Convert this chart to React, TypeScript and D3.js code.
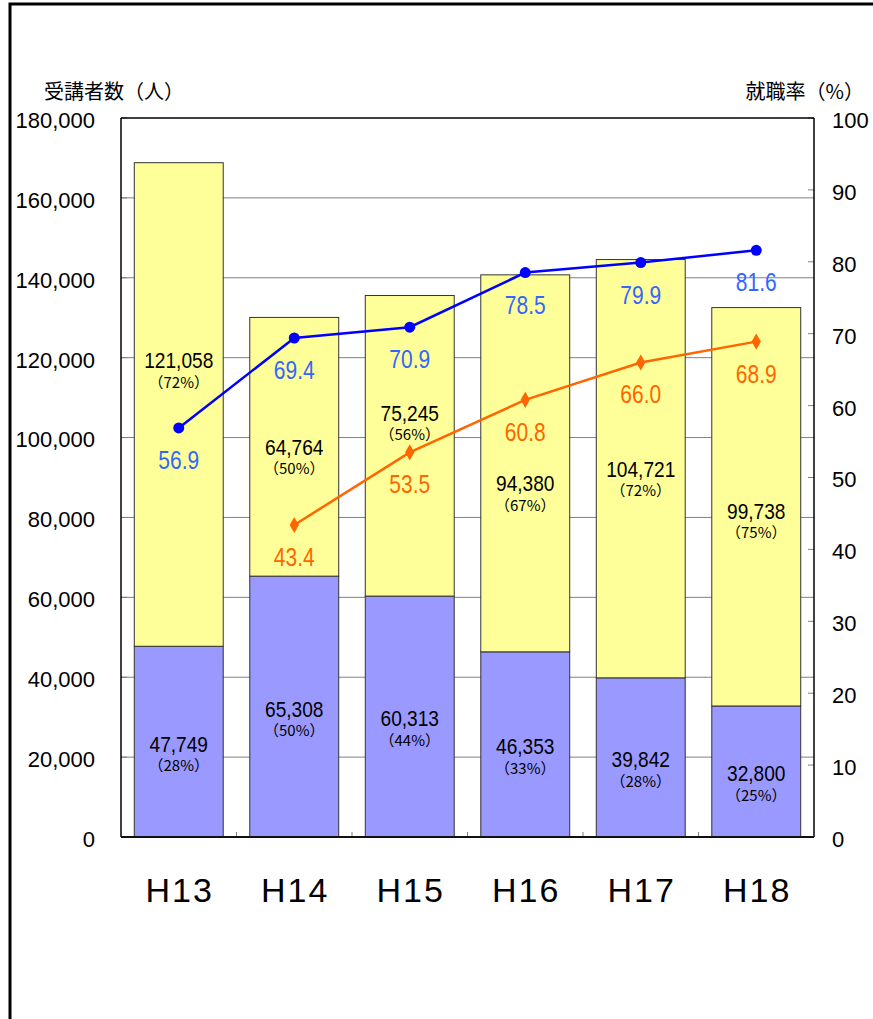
import React from 'react';
import * as d3 from 'd3';

// 受講者数 (stacked) and 就職率 (two lines)
const categories = ['H13', 'H14', 'H15', 'H16', 'H17', 'H18'];
const traineesLower = [47749, 65308, 60313, 46353, 39842, 32800];
const traineesUpper = [121058, 64764, 75245, 94380, 104721, 99738];
const rateBlue = [56.9, 69.4, 70.9, 78.5, 79.9, 81.6];
const rateOrange: (number | null)[] = [null, 43.4, 53.5, 60.8, 66.0, 68.9];
const leftTicks = [0, 20000, 40000, 60000, 80000, 100000, 120000, 140000, 160000, 180000];
const rightTicks = [0, 10, 20, 30, 40, 50, 60, 70, 80, 90, 100];

const W = 873;
const H = 1019;
const plot = { left: 121, right: 814, top: 118, bottom: 837 };
// hand-moved label blocks in the upper segments (px)
const upperShift = [-44, 0, -33, 20, 0, 4];

const numFont = '"Liberation Sans", Arial, sans-serif';
const cjkFont = '"Noto Sans CJK JP", sans-serif';

// narrow-looking text: horizontally squeezed
const Narrow = ({ x, y, size, fill, sx = 0.87, children }: any) => (
  <text
    transform={`translate(${x},${y}) scale(${sx},1)`}
    dy="0.36em"
    textAnchor="middle"
    fontFamily={numFont}
    fontSize={size}
    fill={fill}
  >
    {children}
  </text>
);

const App = () => {
  const x = d3
    .scaleBand<string>()
    .domain(categories)
    .range([plot.left, plot.right])
    .paddingInner(0.23)
    .paddingOuter(0.115);
  const yL = d3.scaleLinear().domain([0, 180000]).range([plot.bottom, plot.top]);
  const yR = d3.scaleLinear().domain([0, 100]).range([plot.bottom, plot.top]);
  const step = (plot.right - plot.left) / categories.length;
  const cx = (c: string) => (x(c) as number) + x.bandwidth() / 2;
  const fmt = d3.format(',');

  const line = d3
    .line<number | null>()
    .defined((d) => d != null)
    .x((_, i) => cx(categories[i]))
    .y((d) => yR(d as number));

  return (
    <div style={{ position: 'absolute', left: 0, top: 0 }}>
      <svg width={W} height={H} style={{ display: 'block', background: '#fff' }}>
        {/* outer frame */}
        <rect x={10} y={4} width={W + 20} height={H + 20} fill="none" stroke="#000" strokeWidth={3} />

        {/* gridlines */}
        {leftTicks.slice(1, -1).map((t) => (
          <line key={t} x1={plot.left} x2={plot.right} y1={yL(t)} y2={yL(t)} stroke="#808080" strokeWidth={1} />
        ))}
        {/* left ticks inside */}
        {leftTicks.map((t) => (
          <line key={'lt' + t} x1={plot.left} x2={plot.left + 6} y1={yL(t)} y2={yL(t)} stroke="#808080" />
        ))}
        {/* right ticks inside */}
        {rightTicks.map((t) => (
          <line key={'rt' + t} x1={plot.right - 6} x2={plot.right} y1={yR(t)} y2={yR(t)} stroke="#808080" />
        ))}
        {/* category ticks */}
        {categories.slice(1).map((c, i) => {
          const xx = plot.left + step * (i + 1);
          return <line key={'ct' + c} x1={xx} x2={xx} y1={plot.bottom} y2={plot.bottom - 5} stroke="#808080" />;
        })}

        {/* bars */}
        {categories.map((c, i) => {
          const lo = traineesLower[i];
          const hi = traineesUpper[i];
          const bx = x(c) as number;
          const bw = x.bandwidth();
          return (
            <g key={c}>
              <rect x={bx} y={yL(lo)} width={bw} height={yL(0) - yL(lo)} fill="#9999FF" stroke="#333" strokeWidth={1} />
              <rect x={bx} y={yL(lo + hi)} width={bw} height={yL(lo) - yL(lo + hi)} fill="#FFFF99" stroke="#333" strokeWidth={1} />
            </g>
          );
        })}

        {/* plot frame */}
        <line x1={plot.left} x2={plot.right} y1={plot.top} y2={plot.top} stroke="#000" strokeWidth={1.5} />
        <line x1={plot.left} x2={plot.left} y1={plot.top} y2={plot.bottom} stroke="#000" strokeWidth={1.5} />
        <line x1={plot.right} x2={plot.right} y1={plot.top} y2={plot.bottom} stroke="#000" strokeWidth={1.5} />
        <line x1={plot.left} x2={plot.right} y1={plot.bottom} y2={plot.bottom} stroke="#111" strokeWidth={2} />

        {/* bar labels */}
        {categories.map((c, i) => {
          const lo = traineesLower[i];
          const hi = traineesUpper[i];
          const tot = lo + hi;
          const mx = cx(c);
          const yLo = (yL(0) + yL(lo)) / 2 + 2;
          const yHi = (yL(lo) + yL(tot)) / 2 + upperShift[i];
          return (
            <g key={'lab' + c}>
              <Narrow x={mx} y={yHi} size={22} fill="#000">{fmt(hi)}</Narrow>
              <text x={mx} y={yHi + 22} dy="0.36em" textAnchor="middle" fontFamily={cjkFont} fontSize={15} fill="#000">
                （{Math.round((hi / tot) * 100)}%）
              </text>
              <Narrow x={mx} y={yLo} size={22} fill="#000">{fmt(lo)}</Narrow>
              <text x={mx} y={yLo + 22} dy="0.36em" textAnchor="middle" fontFamily={cjkFont} fontSize={15} fill="#000">
                （{Math.round((lo / tot) * 100)}%）
              </text>
            </g>
          );
        })}

        {/* lines */}
        <path d={line(rateBlue) || ''} fill="none" stroke="#0000FF" strokeWidth={2.5} />
        <path d={line(rateOrange) || ''} fill="none" stroke="#FF6600" strokeWidth={2.5} />
        {rateBlue.map((v, i) => (
          <g key={'b' + i}>
            <circle cx={cx(categories[i])} cy={yR(v)} r={5.5} fill="#0000FF" />
            <Narrow x={cx(categories[i])} y={yR(v) + 32} size={25} fill="#3366FF" sx={0.84}>
              {v.toFixed(1)}
            </Narrow>
          </g>
        ))}
        {rateOrange.map((v, i) =>
          v == null ? null : (
            <g key={'o' + i}>
              <path
                d={d3.symbol(d3.symbolDiamond, 75)() || ''}
                transform={`translate(${cx(categories[i])},${yR(v)})`}
                fill="#FF6600"
              />
              <Narrow x={cx(categories[i])} y={yR(v) + 32} size={25} fill="#FF6600" sx={0.84}>
                {v.toFixed(1)}
              </Narrow>
            </g>
          )
        )}

        {/* left axis labels */}
        {leftTicks.map((t) => (
          <text key={'ll' + t} x={95} y={yL(t) + 2} dy="0.36em" textAnchor="end" fontFamily={numFont} fontSize={22} fill="#000">
            {fmt(t)}
          </text>
        ))}
        {/* right axis labels */}
        {rightTicks.map((t) => (
          <text key={'rl' + t} x={832} y={yR(t) + 2} dy="0.36em" textAnchor="start" fontFamily={numFont} fontSize={22} fill="#000">
            {t}
          </text>
        ))}

        {/* category labels */}
        {categories.map((c) => (
          <text key={'xl' + c} x={cx(c) + 1} y={902} textAnchor="middle" fontFamily={numFont} fontSize={34} letterSpacing={2} fill="#000">
            {c}
          </text>
        ))}

        {/* axis titles */}
        <text x={44} y={92} dy="0.36em" fontFamily={cjkFont} fontSize={20} fill="#000">受講者数（人）</text>
        <text x={864} y={92} dy="0.36em" textAnchor="end" fontFamily={cjkFont} fontSize={20} fill="#000">就職率（%）</text>
      </svg>
    </div>
  );
};

export default App;
